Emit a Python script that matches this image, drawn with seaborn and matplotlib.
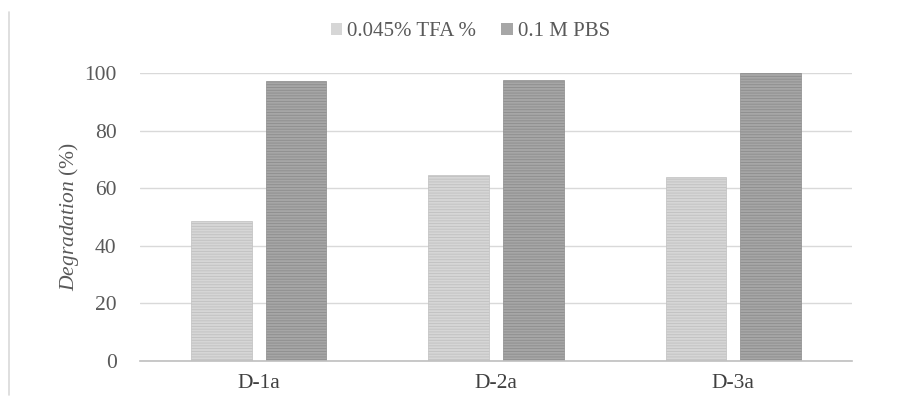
import matplotlib
matplotlib.use("Agg")
import matplotlib.pyplot as plt
import seaborn as sns
import pandas as pd
from matplotlib.lines import Line2D

samples = ["D-1a", "D-2a", "D-3a"]
series_names = ["0.045% TFA %", "0.1 M PBS"]
tfa_values = [48.6, 64.6, 63.9]
pbs_values = [97.2, 97.6, 100.0]
y_ticks = [0, 20, 40, 60, 80, 100]

df = pd.DataFrame({
    "sample": samples * 2,
    "medium": [series_names[0]] * 3 + [series_names[1]] * 3,
    "degradation": tfa_values + pbs_values,
})

sns.set_theme(style="white")
plt.rcParams["font.family"] = ["Liberation Serif", "DejaVu Serif"]
plt.rcParams["mathtext.fontset"] = "custom"
plt.rcParams["mathtext.it"] = "Liberation Serif:italic"
plt.rcParams["mathtext.rm"] = "Liberation Serif"
plt.rcParams["hatch.linewidth"] = 0.6

text_col = "#595959"
fig = plt.figure(figsize=(9.10, 4.03), dpi=100)
ax = fig.add_axes([0.154, 0.104, 0.782, 0.715])

palette = {series_names[0]: "#d6d6d6", series_names[1]: "#a6a6a6"}
sns.barplot(data=df, x="sample", y="degradation", hue="medium", palette=palette,
            width=0.63, gap=0.19, ax=ax, saturation=1, legend=False)

hatch_cols = ["#c0c0c0", "#8c8c8c"]
for i, cont in enumerate(ax.containers):
    for bar in cont:
        bar.set_hatch("------")
        bar.set_edgecolor(hatch_cols[i])
        bar.set_linewidth(0.5)

ax.set_xlim(-0.5, 2.5)
ax.set_ylim(0, 100)
ax.set_yticks(y_ticks)
ax.yaxis.grid(True, color="#d9d9d9", linewidth=1)
ax.set_axisbelow(True)
for s in ["top", "right", "left"]:
    ax.spines[s].set_visible(False)
ax.spines["bottom"].set_color("#bfbfbf")
ax.spines["bottom"].set_linewidth(1.2)
ax.tick_params(axis="both", length=0, colors=text_col, labelsize=15.5)
ax.tick_params(axis="y", pad=17)
ax.tick_params(axis="x", pad=9, colors="#404040")
ax.set_xlabel("")
ax.set_ylabel(r"$\it{Degradation}$ (%)", color=text_col, fontsize=15.5, labelpad=2)

handles = [plt.Rectangle((0, 0), 1, 1, facecolor=palette[n], edgecolor="none") for n in series_names]
fig.legend(handles, series_names, loc="center", bbox_to_anchor=(0.517, 0.921), ncol=2,
           frameon=False, fontsize=15, labelcolor=text_col, handlelength=0.55,
           handleheight=0.55, handletextpad=0.25, columnspacing=1.2)

fig.add_artist(Line2D([0.0099, 0.0099], [0.02, 0.97], color="#d9d9d9", linewidth=1.2))

fig.savefig("out.png", dpi=100)
